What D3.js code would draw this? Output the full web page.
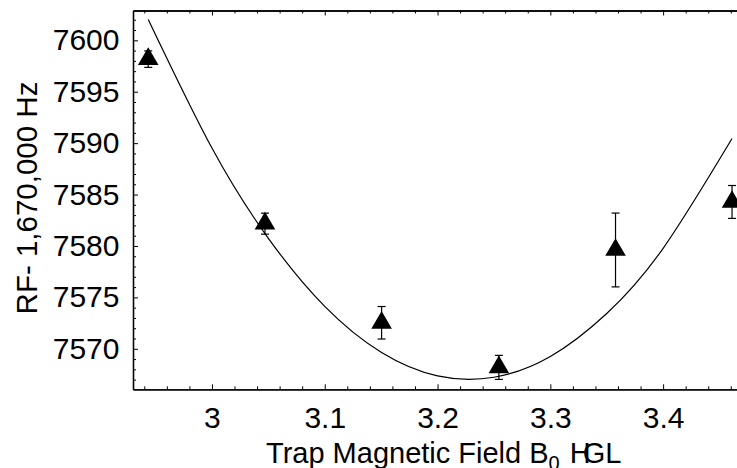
<!DOCTYPE html>
<html lang="en">
    <head>
        <meta charset="utf-8">
        <title>RF vs Trap Magnetic Field</title>
        <script src="https://d3js.org/d3.v7.min.js"></script>
        <style type="text/css">
        body {
            margin: 0;
            background-color: white;
        }
        svg text {
            font-family: "Liberation Sans", Arial, Helvetica, sans-serif;
            fill: black;
        }
        </style>
    </head>
    <body>
        <svg width="737" height="468"></svg>
        <script type="text/javascript">

            // measured points (field in G, rf offset in Hz)
            const fieldB = [2.9435, 3.047, 3.1504, 3.2544, 3.3578, 3.4611];
            const rfOffset = [7598.17, 7582.17, 7572.53, 7568.19, 7579.61, 7584.28];
            const rfError = [0.8, 1.02, 1.58, 1.17, 3.59, 1.6];

            // fitted curve
            const fitB = [2.9435, 3.0, 3.05, 3.1, 3.15, 3.2, 3.25, 3.3, 3.35, 3.4, 3.4611];
            const fitRf = [7602.03, 7589.52, 7580.74, 7574.12, 7569.66, 7567.36, 7567.23, 7569.25, 7573.43, 7579.77, 7590.45];

            const xMajor = [3, 3.1, 3.2, 3.3, 3.4];
            const xTickLabels = ["3", "3.1", "3.2", "3.3", "3.4"];
            const yMajor = [7570, 7575, 7580, 7585, 7590, 7595, 7600];

            const svg = d3.select("svg");
            const mLeft = 133, mRight = 737, mTop = 10.5, mBottom = 389.3;

            const x = d3.scaleLinear().domain([2.930, 3.4655]).range([mLeft, mRight]);
            const y = d3.scaleLinear().domain([7566.06, 7602.9]).range([mBottom, mTop]);

            const xMinor = d3.range(2.94, 3.47, 0.02).filter(v => !xMajor.some(m => Math.abs(m - v) < 1e-6));
            const yMinor = d3.range(7567, 7603, 1).filter(v => v % 5 !== 0);

            const tickFont = 30;
            const titleFont = 29.5;

            // axes: minor ticks, major ticks, labels
            function styleAxis(g) {
                g.selectAll("path").attr("stroke", "black").attr("stroke-width", 1.3);
                g.selectAll("line").attr("stroke", "black").attr("stroke-width", 1);
                g.selectAll("text").style("font-size", tickFont + "px").attr("fill", "black");
            }

            // bottom
            svg.append("g").attr("transform", `translate(0,${mBottom})`)
               .call(d3.axisBottom(x).tickValues(xMinor).tickSize(-3).tickSizeOuter(0).tickFormat(""))
               .call(styleAxis);
            svg.append("g").attr("transform", `translate(0,${mBottom})`)
               .call(d3.axisBottom(x).tickValues(xMajor).tickSize(-5).tickSizeOuter(0)
                       .tickFormat((d, i) => xTickLabels[i]))
               .call(styleAxis)
               .call(g => g.selectAll("text").attr("y", 17.5));

            // top
            svg.append("g").attr("transform", `translate(0,${mTop})`)
               .call(d3.axisTop(x).tickValues(xMinor).tickSize(-3).tickSizeOuter(0).tickFormat(""))
               .call(styleAxis);
            svg.append("g").attr("transform", `translate(0,${mTop})`)
               .call(d3.axisTop(x).tickValues(xMajor).tickSize(-5).tickSizeOuter(0).tickFormat(""))
               .call(styleAxis);

            // left
            svg.append("g").attr("transform", `translate(${mLeft},0)`)
               .call(d3.axisLeft(y).tickValues(yMinor).tickSize(-3).tickSizeOuter(0).tickFormat(""))
               .call(styleAxis);
            svg.append("g").attr("transform", `translate(${mLeft},0)`)
               .call(d3.axisLeft(y).tickValues(yMajor).tickSize(-5).tickSizeOuter(0)
                       .tickFormat(d3.format("d")))
               .call(styleAxis)
               .call(g => g.selectAll("text").attr("x", -13.5));

            // fit curve
            const line = d3.line()
                           .x((d, i) => x(fitB[i]))
                           .y(d => y(d))
                           .curve(d3.curveNatural);
            svg.append("path")
               .datum(fitRf)
               .attr("d", line)
               .attr("fill", "none")
               .attr("stroke", "black")
               .attr("stroke-width", 1.2);

            // error bars
            const points = fieldB.map((b, i) => ({b: b, rf: rfOffset[i], err: rfError[i]}));
            const bars = svg.append("g").attr("stroke", "black").attr("stroke-width", 1.2);
            bars.selectAll("line.v").data(points).enter().append("line")
                .attr("x1", d => x(d.b)).attr("x2", d => x(d.b))
                .attr("y1", d => y(d.rf - d.err)).attr("y2", d => y(d.rf + d.err));
            bars.selectAll("line.top").data(points).enter().append("line")
                .attr("x1", d => x(d.b) - 4).attr("x2", d => x(d.b) + 4)
                .attr("y1", d => y(d.rf + d.err)).attr("y2", d => y(d.rf + d.err));
            bars.selectAll("line.bot").data(points).enter().append("line")
                .attr("x1", d => x(d.b) - 4).attr("x2", d => x(d.b) + 4)
                .attr("y1", d => y(d.rf - d.err)).attr("y2", d => y(d.rf - d.err));

            // triangle markers (centroid on the data point)
            svg.selectAll("path.tri").data(points).enter().append("path")
               .attr("class", "tri")
               .attr("transform", d => `translate(${x(d.b)},${y(d.rf)})`)
               .attr("d", "M0,-11.8L10.3,5.9L-10.3,5.9Z")
               .attr("fill", "black");

            // axis titles
            svg.append("text")
               .attr("transform", "translate(37,198) rotate(-90)")
               .attr("text-anchor", "middle")
               .style("font-size", titleFont + "px")
               .text("RF- 1,670,000 Hz");

            const xt = svg.append("text")
               .attr("x", 266)
               .attr("y", 463)
               .style("font-size", "29px");
            xt.append("tspan").text("Trap Magnetic Field B");
            xt.append("tspan").attr("dy", 7).style("font-size", "20px").text("0");
            xt.append("tspan").attr("dy", -7).attr("dx", 2).text(" H");
            xt.append("tspan").attr("dx", -8).text("GL");

        </script>
    </body>
</html>
